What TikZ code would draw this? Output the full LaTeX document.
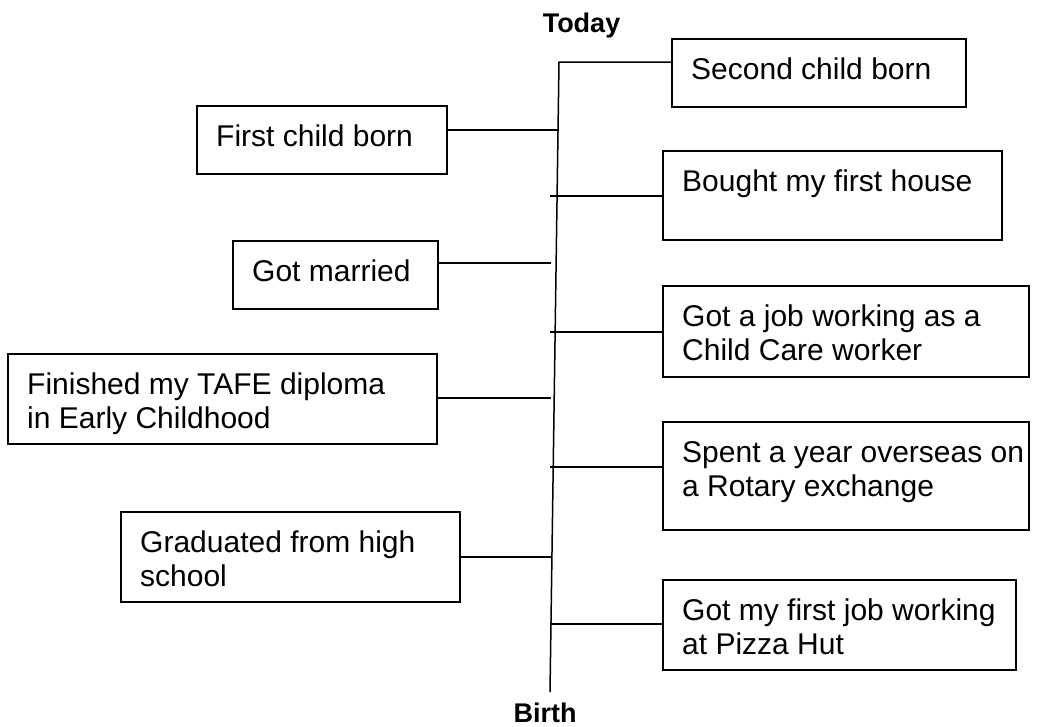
\documentclass[tikz,border=0pt]{standalone}
\usepackage{fontspec}
\setmainfont{Liberation Sans}
\usetikzlibrary{positioning}

\begin{document}
\begin{tikzpicture}[
  x=1pt, y=-1pt,
  evtbox/.style={draw, line width=1.5pt, anchor=north west, inner sep=0pt,
                 outer sep=0pt},
  evttxt/.style={anchor=north west, align=left, inner sep=0pt,
                 font=\fontsize{30pt}{34pt}\selectfont},
  endlbl/.style={anchor=base, inner sep=0pt,
                 font=\fontsize{27pt}{32pt}\selectfont\bfseries},
  link/.style={line width=1.5pt}
]
  \useasboundingbox (0,0) rectangle (1039,726);

  % Ends of the line
  \node[endlbl] (today-lbl) at (581.5,32)  {Today};
  \node[endlbl] (birth-lbl) at (545,722)   {Birth};
  \coordinate (today) at (559,62);
  \coordinate (birth) at (550,692);

  % Right side
  \node[evtbox, minimum width=294pt, minimum height=68pt] (second) at (672,39) {};
  \node[evttxt] (second-txt) at ([xshift=19pt, yshift=-19pt]second.north west)
    {Second child born};
  \node[evtbox, minimum width=339pt, minimum height=89pt] (bought) at (663,151) {};
  \node[evttxt] (bought-txt) at ([xshift=19pt, yshift=-19pt]bought.north west)
    {Bought my first house};
  \node[evtbox, minimum width=366pt, minimum height=91pt] (job) at (663,286) {};
  \node[evttxt] (job-txt) at ([xshift=19pt, yshift=-19pt]job.north west)
    {Got a job working as a\\Child Care worker};
  \node[evtbox, minimum width=366pt, minimum height=108pt] (rotary) at (663,422) {};
  \node[evttxt] (rotary-txt) at ([xshift=19pt, yshift=-19pt]rotary.north west)
    {Spent a year overseas on\\a Rotary exchange};
  \node[evtbox, minimum width=353pt, minimum height=90pt] (pizza) at (663,580) {};
  \node[evttxt] (pizza-txt) at ([xshift=19pt, yshift=-19pt]pizza.north west)
    {Got my first job working\\at Pizza Hut};

  % Left side
  \node[evtbox, minimum width=250pt, minimum height=68pt] (first) at (197,106) {};
  \node[evttxt] (first-txt) at ([xshift=19pt, yshift=-19pt]first.north west)
    {First child born};
  \node[evtbox, minimum width=205pt, minimum height=68pt] (married) at (233,241) {};
  \node[evttxt] (married-txt) at ([xshift=19pt, yshift=-19pt]married.north west)
    {Got married};
  \node[evtbox, minimum width=429pt, minimum height=90pt] (tafe) at (8,354) {};
  \node[evttxt] (tafe-txt) at ([xshift=19pt, yshift=-19pt]tafe.north west)
    {Finished my TAFE diploma\\in Early Childhood};
  \node[evtbox, minimum width=339pt, minimum height=90pt] (school) at (121,512) {};
  \node[evttxt] (school-txt) at ([xshift=19pt, yshift=-19pt]school.north west)
    {Graduated from high\\school};

  % Points on the line
  \coordinate (t-first)   at (558,130);
  \coordinate (t-bought)  at (550,196);
  \coordinate (t-married) at (551,263);
  \coordinate (t-job)     at (550,332);
  \coordinate (t-tafe)    at (551,398);
  \coordinate (t-rotary)  at (550,467);
  \coordinate (t-school)  at (552,557);
  \coordinate (t-pizza)   at (550,624);

  % Line and links
  \draw[link] (birth) -- (today) -- (second.west |- today);
  \draw[link] (t-bought) -- (bought.west |- t-bought);
  \draw[link] (t-job)    -- (job.west |- t-job);
  \draw[link] (t-rotary) -- (rotary.west |- t-rotary);
  \draw[link] (t-pizza)  -- (pizza.west |- t-pizza);
  \draw[link] (first.east |- t-first)     -- (t-first);
  \draw[link] (married.east |- t-married) -- (t-married);
  \draw[link] (tafe.east |- t-tafe)       -- (t-tafe);
  \draw[link] (school.east |- t-school)   -- (t-school);
\end{tikzpicture}
\end{document}
